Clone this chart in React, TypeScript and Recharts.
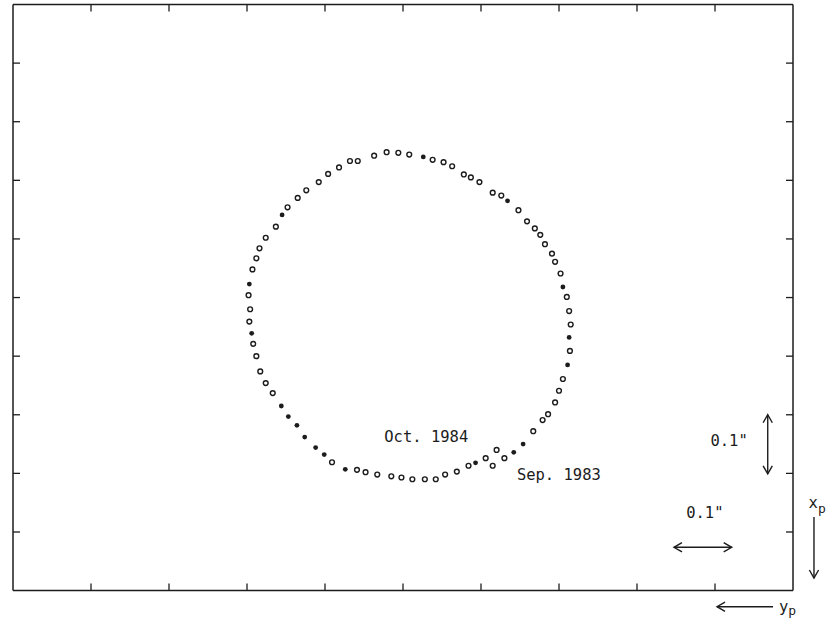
import React from 'react';
import { ScatterChart, Scatter, XAxis, YAxis, ReferenceLine, ReferenceDot } from 'recharts';

// Pole path in tick-interval units.
// hPos: horizontal position (y_p direction), vPos: vertical position (x_p, increasing downward)
const hPos = [
  3.02, 3.03, 3.07, 3.12, 3.16, 3.24, 3.37, 3.45, 3.52, 3.65,
  3.76, 3.92, 4.04, 4.18, 4.32, 4.42, 4.63, 4.79, 4.94, 5.08,
  5.26, 5.38, 5.52, 5.63, 5.78, 5.87, 5.98, 6.15, 6.26, 6.34,
  6.48, 6.59, 6.69, 6.76, 6.82, 6.91, 6.95, 7.02, 7.05, 7.10,
  7.13, 7.15, 7.13, 7.14, 7.11, 7.05, 7.00, 6.95, 6.86, 6.79,
  6.67, 6.54, 6.42, 6.30, 6.20, 6.15, 6.06, 5.93, 5.84, 5.69,
  5.54, 5.42, 5.28, 5.12, 4.98, 4.85, 4.67, 4.52, 4.41, 4.26,
  4.09, 3.99, 3.88, 3.74, 3.64, 3.53, 3.44, 3.33, 3.24, 3.17,
  3.12, 3.08, 3.06, 3.03, 3.04,
];
const vPos = [
  4.96, 4.77, 4.52, 4.33, 4.16, 3.98, 3.79, 3.59, 3.46, 3.30,
  3.17, 3.03, 2.89, 2.78, 2.67, 2.67, 2.58, 2.52, 2.53, 2.56,
  2.60, 2.65, 2.69, 2.76, 2.90, 2.95, 3.03, 3.21, 3.26, 3.35,
  3.51, 3.70, 3.82, 3.93, 4.09, 4.25, 4.39, 4.59, 4.82, 4.99,
  5.23, 5.46, 5.68, 5.91, 6.15, 6.39, 6.59, 6.79, 6.99, 7.09,
  7.28, 7.50, 7.64, 7.74, 7.60, 7.87, 7.74, 7.82, 7.87, 7.97,
  8.02, 8.10, 8.10, 8.10, 8.07, 8.05, 8.02, 7.98, 7.94, 7.93,
  7.81, 7.68, 7.56, 7.38, 7.18, 7.03, 6.85, 6.63, 6.46, 6.26,
  6.00, 5.79, 5.61, 5.41, 5.20,
];
// points that print as solid dots
const filledIdx = [1, 7, 20, 29, 38, 42, 44, 51, 52, 57, 69, 71, 72, 73, 74, 75, 76, 82];

const axisTicks = [1, 2, 3, 4, 5, 6, 7, 8, 9];
const axisDomain: [number, number] = [0, 10];

const epochLabels = ['Oct. 1984', 'Sep. 1983'];
const epochH = [4.76, 6.46];
const epochV = [7.46, 8.11];

const scaleLabel = '0.1"';

const points = hPos.map((h, i) => ({ h, v: vPos[i], i }));
const openPts = points.filter((p) => !filledIdx.includes(p.i));
const solidPts = points.filter((p) => filledIdx.includes(p.i));

const INK = '#1c1c1c';
const FONT = '"DejaVu Sans Mono", "Liberation Mono", monospace';

const openShape = (p: any) => (
  <circle cx={p.cx} cy={p.cy} r={2.4} fill="#fff" stroke={INK} strokeWidth={1.4} />
);
const solidShape = (p: any) => <circle cx={p.cx} cy={p.cy} r={2.4} fill={INK} />;

const arrowShape = (start: boolean, end: boolean) => (p: any) => {
  const { x1, y1, x2, y2 } = p;
  const ang = Math.atan2(y2 - y1, x2 - x1);
  const L = 8;
  const W = 4.6;
  const head = (x: number, y: number, dir: number) => {
    const bx = x - L * Math.cos(dir);
    const by = y - L * Math.sin(dir);
    const nx = -Math.sin(dir) * W;
    const ny = Math.cos(dir) * W;
    return (
      <path
        d={`M${bx + nx},${by + ny} L${x},${y} L${bx - nx},${by - ny}`}
        fill="none"
        stroke={INK}
        strokeWidth={1.4}
      />
    );
  };
  return (
    <g>
      <line x1={x1} y1={y1} x2={x2} y2={y2} stroke={INK} strokeWidth={1.4} />
      {start && head(x1, y1, ang + Math.PI)}
      {end && head(x2, y2, ang)}
    </g>
  );
};

const textShape = (content: React.ReactNode, anchor: 'start' | 'middle' | 'end' = 'start') => (p: any) => (
  <text x={p.cx} y={p.cy} textAnchor={anchor} fontFamily={FONT} fontSize={15.5} fill={INK}>
    {content}
  </text>
);

const subLabel = (main: string, sub: string, dy: number) => (p: any) => (
  <text x={p.cx} y={p.cy} fontFamily={FONT} fontSize={15.5} fill={INK}>
    {main}
    <tspan fontSize={13} dy={dy} fill={INK}>{sub}</tspan>
  </text>
);

const noLabel = () => <g />;

const axisCommon = {
  type: 'number' as const,
  domain: axisDomain,
  ticks: axisTicks,
  tick: noLabel,
  tickSize: -7,
  allowDataOverflow: true,
  axisLine: { stroke: INK, strokeWidth: 1.5 },
  tickLine: { stroke: INK, strokeWidth: 1.3 },
};

export default function App() {
  return (
    <div style={{ position: 'absolute', left: 0, top: 0, width: 832, height: 622, background: '#fff' }}>
      <ScatterChart width={832} height={622} margin={{ top: 3.5, right: 38, bottom: 30.4, left: 12 }}>
        <XAxis xAxisId="b" dataKey="h" orientation="bottom" height={1} {...axisCommon} />
        <XAxis xAxisId="t" dataKey="h" orientation="top" height={1} {...axisCommon} />
        <YAxis yAxisId="l" dataKey="v" orientation="left" width={1} reversed {...axisCommon} />
        <YAxis yAxisId="r" dataKey="v" orientation="right" width={1} reversed {...axisCommon} />

        <Scatter data={openPts} xAxisId="b" yAxisId="l" shape={openShape} isAnimationActive={false} />
        <Scatter data={solidPts} xAxisId="t" yAxisId="r" shape={solidShape} isAnimationActive={false} />

        {epochLabels.map((t, i) => (
          <ReferenceDot key={t} xAxisId="b" yAxisId="l" x={epochH[i]} y={epochV[i]} r={0}
            ifOverflow="visible" shape={textShape(t)} />
        ))}

        {/* vertical 0.1" scale */}
        <ReferenceLine xAxisId="b" yAxisId="l" ifOverflow="visible"
          segment={[{ x: 9.676, y: 7.0 }, { x: 9.676, y: 8.01 }]} shape={arrowShape(true, true)} />
        <ReferenceDot xAxisId="b" yAxisId="l" x={9.42} y={7.53} r={0} ifOverflow="visible"
          shape={textShape(scaleLabel, 'end')} />

        {/* horizontal 0.1" scale */}
        <ReferenceLine xAxisId="b" yAxisId="l" ifOverflow="visible"
          segment={[{ x: 8.474, y: 9.261 }, { x: 9.214, y: 9.261 }]} shape={arrowShape(true, true)} />
        <ReferenceDot xAxisId="b" yAxisId="l" x={8.87} y={8.76} r={0} ifOverflow="visible"
          shape={textShape(scaleLabel, 'middle')} />

        {/* x_p direction */}
        <ReferenceLine xAxisId="b" yAxisId="l" ifOverflow="visible"
          segment={[{ x: 10.269, y: 8.744 }, { x: 10.269, y: 9.785 }]} shape={arrowShape(false, true)} />
        <ReferenceDot xAxisId="b" yAxisId="l" x={10.2} y={8.59} r={0} ifOverflow="visible"
          shape={subLabel('x', 'p', 5)} />

        {/* y_p direction */}
        <ReferenceLine xAxisId="b" yAxisId="l" ifOverflow="visible"
          segment={[{ x: 9.744, y: 10.275 }, { x: 9.026, y: 10.275 }]} shape={arrowShape(false, true)} />
        <ReferenceDot xAxisId="b" yAxisId="l" x={9.82} y={10.36} r={0} ifOverflow="visible"
          shape={subLabel('y', 'p', 3)} />
      </ScatterChart>
    </div>
  );
}
